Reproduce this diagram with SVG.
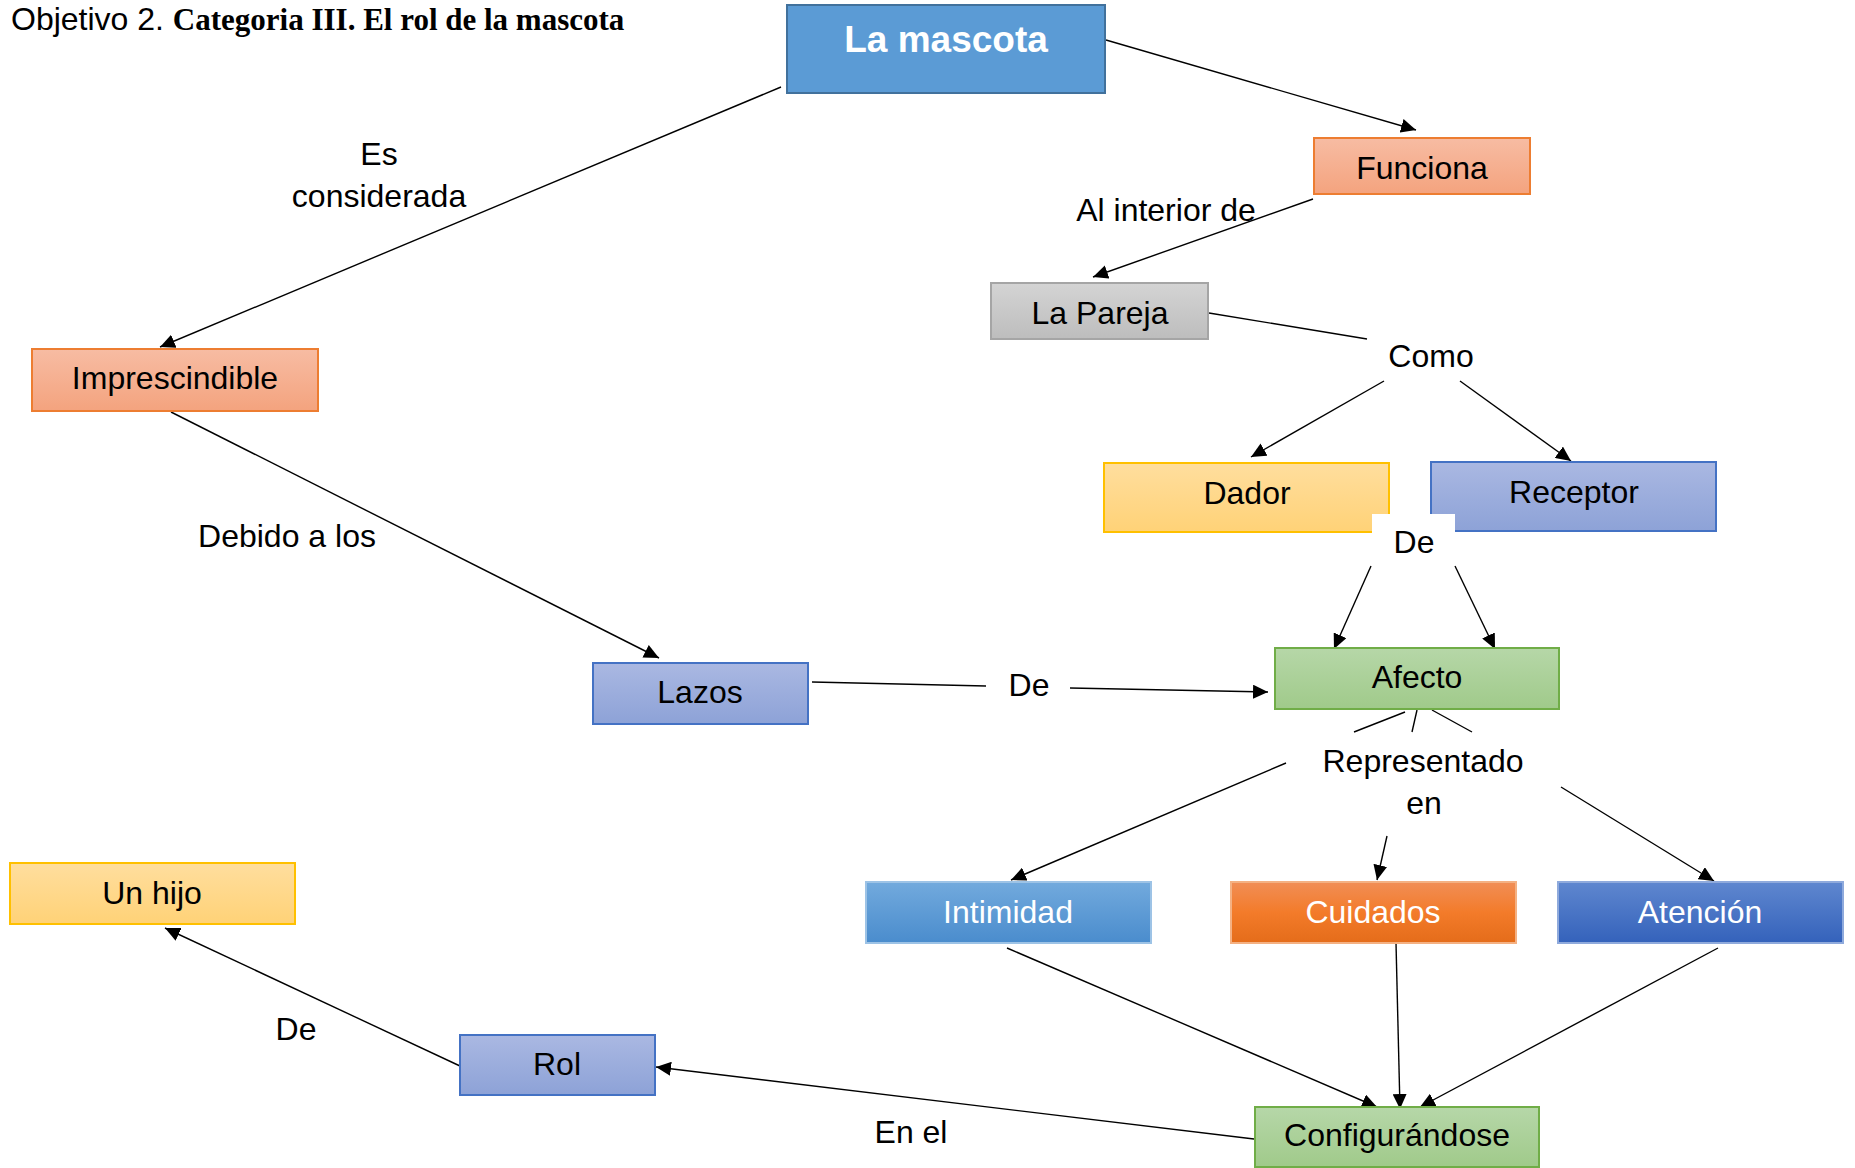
<svg xmlns="http://www.w3.org/2000/svg" width="1855" height="1168" viewBox="0 0 1855 1168">
<style>
text{font-family:"Liberation Sans",Arial,sans-serif;font-size:32px;fill:#000;text-anchor:middle}
.w{fill:#fff}
.title{text-anchor:start}
.serif{font-family:"Liberation Serif","Times New Roman",serif;font-weight:bold;font-size:31px}
.c line{stroke:#000;stroke-width:1.4;fill:none}
.c .a{marker-end:url(#ah)}
.n rect{stroke-width:2}
</style>
<defs>
<marker id="ah" markerUnits="userSpaceOnUse" markerWidth="16" markerHeight="14" refX="15" refY="7" orient="auto">
<path d="M0,0 L15,7 L0,14 z" fill="#000"/>
</marker>
<linearGradient id="gOr" x1="0" y1="0" x2="0" y2="1"><stop offset="0" stop-color="#F7BCA3"/><stop offset="1" stop-color="#F4A37E"/></linearGradient>
<linearGradient id="gGr" x1="0" y1="0" x2="0" y2="1"><stop offset="0" stop-color="#D4D4D4"/><stop offset="1" stop-color="#BDBDBD"/></linearGradient>
<linearGradient id="gYe" x1="0" y1="0" x2="0" y2="1"><stop offset="0" stop-color="#FFDE9E"/><stop offset="1" stop-color="#FFD277"/></linearGradient>
<linearGradient id="gBl" x1="0" y1="0" x2="0" y2="1"><stop offset="0" stop-color="#AAB8E2"/><stop offset="1" stop-color="#8DA2D7"/></linearGradient>
<linearGradient id="gGn" x1="0" y1="0" x2="0" y2="1"><stop offset="0" stop-color="#B6D7A8"/><stop offset="1" stop-color="#A0CA8A"/></linearGradient>
<linearGradient id="gSb" x1="0" y1="0" x2="0" y2="1"><stop offset="0" stop-color="#72AADD"/><stop offset="1" stop-color="#4A8CCD"/></linearGradient>
<linearGradient id="gOg" x1="0" y1="0" x2="0" y2="1"><stop offset="0" stop-color="#F18E56"/><stop offset="0.5" stop-color="#F37B2A"/><stop offset="1" stop-color="#E46C1A"/></linearGradient>
<linearGradient id="gDb" x1="0" y1="0" x2="0" y2="1"><stop offset="0" stop-color="#5F87CF"/><stop offset="1" stop-color="#3462BB"/></linearGradient>
</defs>
<rect width="1855" height="1168" fill="#fff"/>
<text class="title" x="11" y="30">Objetivo 2. <tspan class="serif">Categoria III. El rol de la mascota</tspan></text>

<g class="c" id="connectors">
<line class="a" x1="781" y1="87" x2="160" y2="347"/>
<line class="a" x1="1106" y1="40" x2="1416" y2="130"/>
<line class="a" x1="1313" y1="199" x2="1093" y2="277"/>
<line x1="1209" y1="313" x2="1367" y2="339"/>
<line class="a" x1="1384" y1="381" x2="1251" y2="457"/>
<line class="a" x1="1460" y1="381" x2="1571" y2="461"/>
<line class="a" x1="1371" y1="566" x2="1334" y2="649"/>
<line class="a" x1="1455" y1="566" x2="1495" y2="649"/>
<line class="a" x1="171" y1="412" x2="659" y2="658"/>
<line x1="812" y1="682" x2="986" y2="686"/>
<line class="a" x1="1070" y1="688" x2="1268" y2="692"/>
<line x1="1405" y1="712" x2="1354" y2="732"/>
<line x1="1417" y1="710" x2="1412" y2="732"/>
<line x1="1432" y1="710" x2="1472" y2="732"/>
<line class="a" x1="1286" y1="763" x2="1011" y2="880"/>
<line class="a" x1="1387" y1="836" x2="1377" y2="880"/>
<line class="a" x1="1561" y1="787" x2="1714" y2="881"/>
<line class="a" x1="1007" y1="948" x2="1377" y2="1107"/>
<line class="a" x1="1396" y1="943" x2="1400" y2="1109"/>
<line class="a" x1="1718" y1="948" x2="1420" y2="1107"/>
<line class="a" x1="1254" y1="1139" x2="656" y2="1067"/>
<line class="a" x1="460" y1="1066" x2="165" y2="928"/>
</g>

<g class="n" id="n-mascota"><rect x="787" y="5" width="318" height="88" fill="#5B9BD5" stroke="#41719C" stroke-width="3"/><text class="w" x="946" y="52" style="font-weight:bold;font-size:37px">La mascota</text></g>
<g class="n" id="n-funciona"><rect x="1314" y="138" width="216" height="56" fill="url(#gOr)" stroke="#ED7D31"/><text x="1422" y="179">Funciona</text></g>
<g class="n" id="n-pareja"><rect x="991" y="283" width="217" height="56" fill="url(#gGr)" stroke="#A5A5A5"/><text x="1100" y="324">La Pareja</text></g>
<g class="n" id="n-imprescindible"><rect x="32" y="349" width="286" height="62" fill="url(#gOr)" stroke="#ED7D31"/><text x="175" y="389">Imprescindible</text></g>
<g class="n" id="n-dador"><rect x="1104" y="463" width="285" height="69" fill="url(#gYe)" stroke="#FFC000"/><text x="1247" y="504">Dador</text></g>
<g class="n" id="n-receptor"><rect x="1431" y="462" width="285" height="69" fill="url(#gBl)" stroke="#4472C4"/><text x="1574" y="503">Receptor</text></g>
<g class="n" id="n-lazos"><rect x="593" y="663" width="215" height="61" fill="url(#gBl)" stroke="#4472C4"/><text x="700" y="703">Lazos</text></g>
<g class="n" id="n-afecto"><rect x="1275" y="648" width="284" height="61" fill="url(#gGn)" stroke="#70AD47"/><text x="1417" y="688">Afecto</text></g>
<g class="n" id="n-unhijo"><rect x="10" y="863" width="285" height="61" fill="url(#gYe)" stroke="#FFC000"/><text x="152" y="904">Un hijo</text></g>
<g class="n" id="n-intimidad"><rect x="866" y="882" width="285" height="61" fill="url(#gSb)" stroke="#9DC3E6"/><text class="w" x="1008" y="923">Intimidad</text></g>
<g class="n" id="n-cuidados"><rect x="1231" y="882" width="285" height="61" fill="url(#gOg)" stroke="#F4B183"/><text class="w" x="1373" y="923">Cuidados</text></g>
<g class="n" id="n-atencion"><rect x="1558" y="882" width="285" height="61" fill="url(#gDb)" stroke="#8FAADC"/><text class="w" x="1700" y="923">Atención</text></g>
<g class="n" id="n-rol"><rect x="460" y="1035" width="195" height="60" fill="url(#gBl)" stroke="#4472C4"/><text x="557" y="1075">Rol</text></g>
<g class="n" id="n-config"><rect x="1255" y="1107" width="284" height="60" fill="url(#gGn)" stroke="#70AD47"/><text x="1397" y="1146">Configurándose</text></g>

<g id="labels">
<text x="379" y="165">Es</text>
<text x="379" y="207">considerada</text>
<text x="1166" y="221">Al interior de</text>
<text x="1431" y="367">Como</text>
<rect x="1372" y="514" width="83" height="52" fill="#fff"/>
<text x="1414" y="553">De</text>
<text x="287" y="547">Debido a los</text>
<text x="1029" y="696">De</text>
<text x="1423" y="772">Representado</text>
<text x="1424" y="814">en</text>
<text x="296" y="1040">De</text>
<text x="911" y="1143">En el</text>
</g>
</svg>
